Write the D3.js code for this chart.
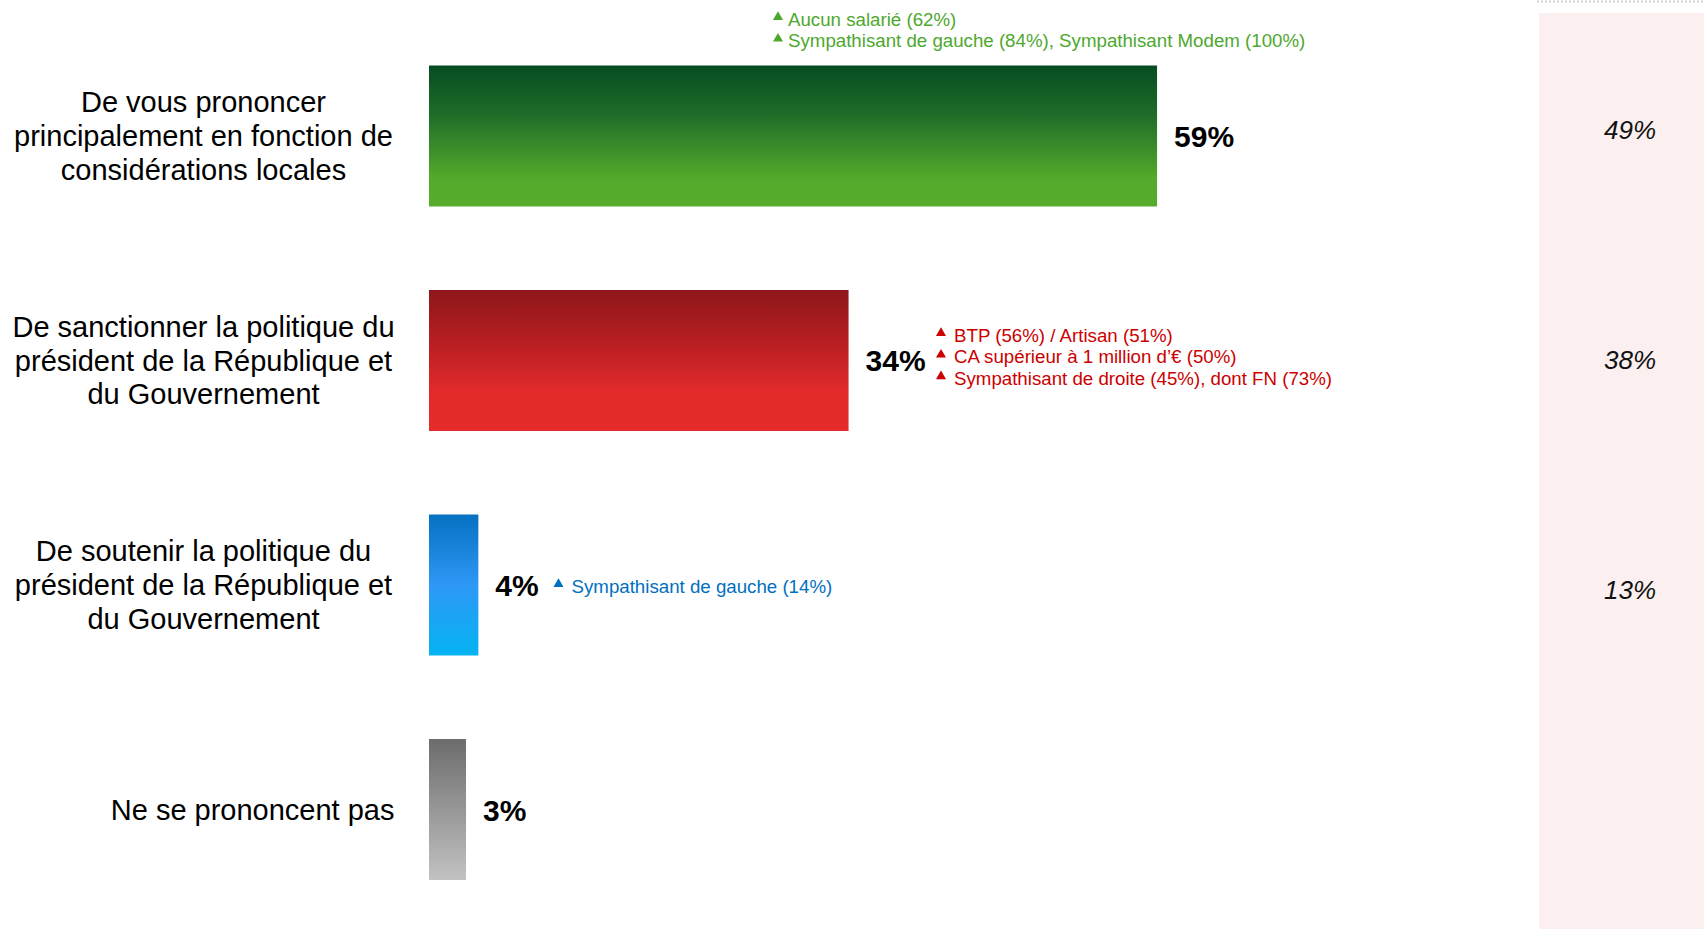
<!DOCTYPE html>
<html>
<head>
<meta charset="utf-8">
<script src="https://cdn.jsdelivr.net/npm/d3@7"></script>
<style>
  html, body { margin: 0; padding: 0; background: #fff; }
  svg text { font-family: Arial, "Liberation Sans", Helvetica, sans-serif; }
</style>
</head>
<body>
<svg id="chart" width="1704" height="929" style="display:block"></svg>
<script>
// Categories (label lines) and headline values
const categories = [
  ["De vous prononcer", "principalement en fonction de", "considérations locales"],
  ["De sanctionner la politique du", "président de la République et", "du Gouvernement"],
  ["De soutenir la politique du", "président de la République et", "du Gouvernement"],
  ["Ne se prononcent pas"]
];
const values = [59, 34, 4, 3];
const previousValues = ["49%", "38%", "13%", null];

// Sub-group call-outs per bar
const notes = [
  ["Aucun salarié (62%)", "Sympathisant de gauche (84%), Sympathisant Modem (100%)"],
  ["BTP (56%) / Artisan (51%)", "CA supérieur à 1 million d’€ (50%)", "Sympathisant de droite (45%), dont FN (73%)"],
  ["Sympathisant de gauche (14%)"],
  []
];

const gradients = [
  [["0%", "#064c22"], ["35%", "#1f6d29"], ["80%", "#54aa2b"], ["100%", "#56ac2c"]],
  [["0%", "#8e161a"], ["40%", "#bb1f23"], ["72%", "#e22a2b"], ["100%", "#e52b2c"]],
  [["0%", "#0670c1"], ["50%", "#2e98f6"], ["100%", "#05b3f2"]],
  [["0%", "#6c6c6c"], ["100%", "#c2c2c2"]]
];
const noteColors = ["#4ea82e", "#cc0000", "#0070c0", "#000"];

const FONT = 'Arial, "Liberation Sans", Helvetica, sans-serif';
const svg = d3.select("#chart").attr("font-family", FONT);
const ids = categories.map((d, i) => "cat" + i);

const x = d3.scaleLinear().domain([0, 100]).range([429, 1663]);
const y = d3.scaleBand().domain(ids).range([65.5, 880]).paddingInner(0.372).paddingOuter(0);

// Gradient definitions
const defs = svg.append("defs");
gradients.forEach((stops, i) => {
  const g = defs.append("linearGradient").attr("id", "grad" + i)
    .attr("x1", 0).attr("y1", 0).attr("x2", 0).attr("y2", 1);
  stops.forEach(s => g.append("stop").attr("offset", s[0]).attr("stop-color", s[1]));
});

// Comparison panel on the right
svg.append("rect").attr("x", 1539).attr("y", 13).attr("width", 165).attr("height", 916)
  .attr("fill", "#fbf0ef");
svg.append("line").attr("x1", 1537).attr("x2", 1704).attr("y1", 1.5).attr("y2", 1.5)
  .attr("stroke", "#cfcfcf").attr("stroke-width", 2).attr("stroke-dasharray", "2,2");

previousValues.forEach((v, i) => {
  if (!v) return;
  svg.append("text")
    .attr("x", 1630)
    .attr("y", y(ids[i]) + y.bandwidth() / 2 + [3, 9, 14][i])
    .attr("text-anchor", "middle")
    .attr("font-size", 26)
    .attr("font-style", "italic")
    .attr("fill", "#111")
    .text(v);
});

// Bars
svg.selectAll("rect.bar").data(values).join("rect")
  .attr("class", "bar")
  .attr("x", x(0))
  .attr("y", (d, i) => y(ids[i]))
  .attr("width", d => x(d) - x(0))
  .attr("height", y.bandwidth())
  .attr("fill", (d, i) => `url(#grad${i})`);

// Value labels
svg.selectAll("text.val").data(values).join("text")
  .attr("class", "val")
  .attr("x", d => x(d) + 17)
  .attr("y", (d, i) => y(ids[i]) + y.bandwidth() / 2 + 11)
  .attr("font-size", 30)
  .attr("font-weight", "bold")
  .attr("fill", "#000")
  .text(d => d + "%");

// Category labels
const labelFs = 29, lineH = 33.7;
categories.forEach((lines, i) => {
  const cy = y(ids[i]) + y.bandwidth() / 2;
  const single = lines.length === 1;
  const t = svg.append("text")
    .attr("font-size", labelFs)
    .attr("fill", "#000")
    .attr("text-anchor", single ? "end" : "middle");
  lines.forEach((ln, j) => {
    t.append("tspan")
      .attr("x", single ? 394.5 : 203.5)
      .attr("y", cy + (j - (lines.length - 1) / 2) * lineH + labelFs * 0.35)
      .text(ln);
  });
});

// Call-out notes with triangle markers
const noteFs = 18.7, noteLH = 21.7;
const noteAnchors = [
  { tx: 778, gap: 10, y0: 19 },
  { tx: 941, gap: 13, y0: 335 },
  { tx: 558.5, gap: 13, y0: 586 },
  null
];
const tri = d3.symbol().type(d3.symbolTriangle).size(44);
notes.forEach((lines, i) => {
  const a = noteAnchors[i];
  if (!a) return;
  lines.forEach((ln, j) => {
    const cy = a.y0 + j * noteLH;
    svg.append("path").attr("d", tri)
      .attr("transform", `translate(${a.tx},${cy - 2})`)
      .attr("fill", noteColors[i]);
    svg.append("text")
      .attr("x", a.tx + a.gap)
      .attr("y", cy + noteFs * 0.35)
      .attr("font-size", noteFs)
      .attr("fill", noteColors[i])
      .text(ln);
  });
});
</script>
</body>
</html>
